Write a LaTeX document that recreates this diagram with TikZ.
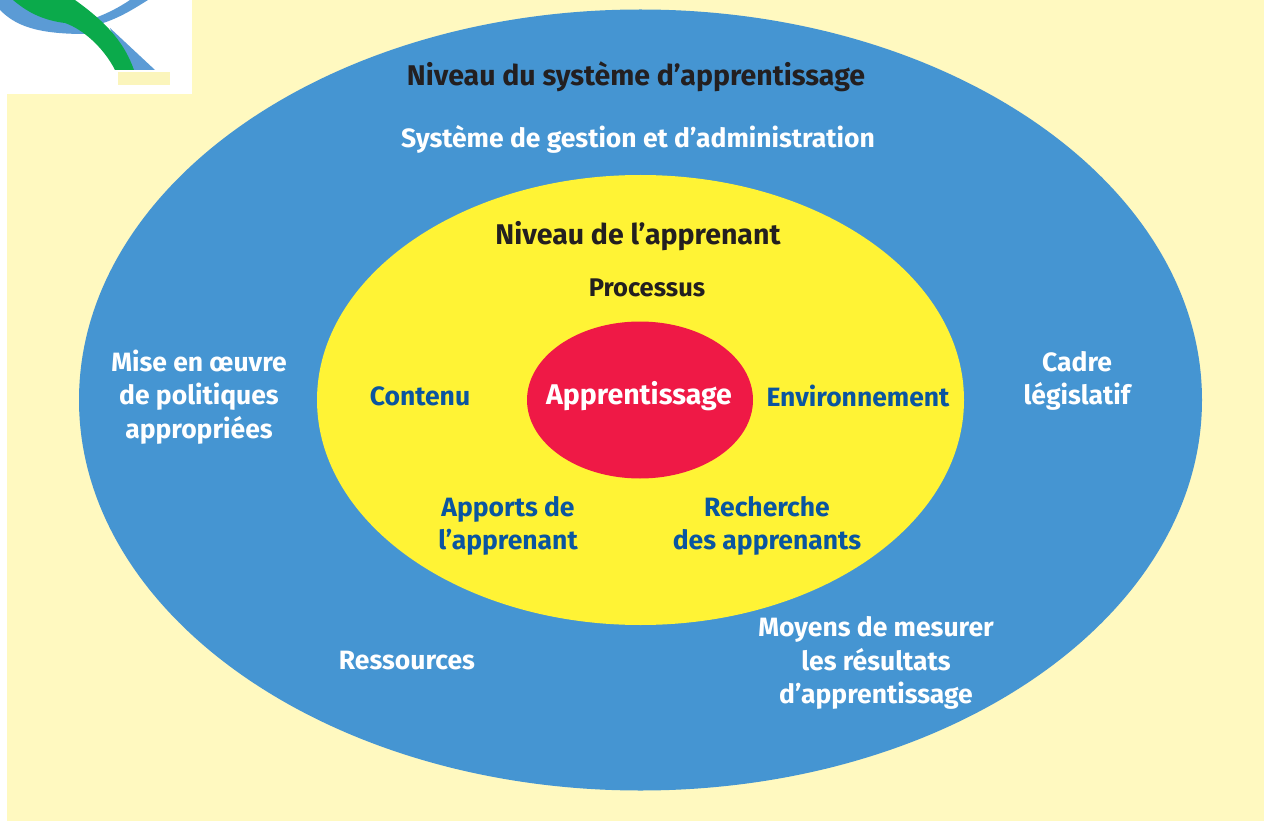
\documentclass[tikz,border=0pt]{standalone}
\usepackage{fontspec}
\usetikzlibrary{shapes.geometric}
\setmainfont{Fira Sans}
\definecolor{cream}{HTML}{FFF9C0}
\definecolor{bluebg}{HTML}{4595D2}
\definecolor{yel}{HTML}{FFF335}
\definecolor{redc}{HTML}{EF1946}
\definecolor{darkb}{HTML}{0A55A0}
\definecolor{ink}{HTML}{231F20}
\definecolor{grn}{HTML}{0BAA4B}
\definecolor{skyb}{HTML}{5B9BD5}
\definecolor{paley}{HTML}{FBF5BC}
\tikzset{lbl/.style={font=\fontsize{26.5}{33.5}\selectfont\bfseries,align=center,inner sep=0pt},
wl/.style={lbl,text=white},dl/.style={lbl,text=darkb},kl/.style={lbl,text=ink},
hd/.style={lbl,text=ink,font=\fontsize{28.5}{33.5}\selectfont\bfseries}}
\begin{document}
\begin{tikzpicture}[x=1pt,y=-1pt]
\useasboundingbox (0,0) rectangle (1264,821);
\fill[white] (0,0) rectangle (1264,821);
\fill[cream] (7,0) rectangle (1264,821);
\fill[white] (0,0) rectangle (192,94);
\fill[paley] (118,72) rectangle (170,85);
\fill[skyb] (0,10) .. controls (15,25) and (35,34) .. (85,34) -- (100,24) .. controls (120,18) and (135,8) .. (148,0) -- (130,0) .. controls (118,8) and (108,13) .. (95,18) -- (60,18) -- (15,0) -- (0,0) -- cycle;
\fill[skyb] (110,28) -- (155,70) -- (125,70) -- cycle;
\fill[grn] (13,0) .. controls (25,10) and (40,20) .. (65,23) .. controls (85,30) and (105,50) .. (115,70) -- (134,70) .. controls (125,45) and (110,25) .. (75,0) -- cycle;
\node[ellipse,draw=none,fill=bluebg,minimum width=1123pt,minimum height=781pt,inner sep=0pt] (outer) at (640.5,400) {};
\node[ellipse,fill=yel,minimum width=647pt,minimum height=450pt,inner sep=0pt] (mid) at (640.5,400) {};
\node[ellipse,fill=redc,minimum width=226pt,minimum height=157pt,inner sep=0pt] (core) at (640,400) {};
\node[hd] (t1) at (636,77) {Niveau du système d’apprentissage};
\node[wl] (t2) at (638,139) {Système de gestion et d’administration};
\node[hd] (t3) at (638,236) {Niveau de l’apprenant};
\node[kl,font=\fontsize{25.5}{33}\selectfont\bfseries] (t4) at (647,288) {Processus};
\node[lbl,text=white,font=\fontsize{28.5}{33}\selectfont\bfseries] (t5) at (639,396) {Apprentissage};
\node[dl] (t6) at (420,396) {Contenu};
\node[dl] (t7) at (858,396) {Environnement};
\node[dl] (t8) at (508,526) {Apports de\\l’apprenant};
\node[dl] (t9) at (767,526) {Recherche\\des apprenants};
\node[wl] (t10) at (199,397) {Mise en œuvre\\de politiques\\appropriées};
\node[wl] (t11) at (1077,381) {Cadre\\législatif};
\node[wl] (t12) at (407,661) {Ressources};
\node[wl] (t13) at (876,663) {Moyens de mesurer\\les résultats\\d’apprentissage};
\end{tikzpicture}
\end{document}
